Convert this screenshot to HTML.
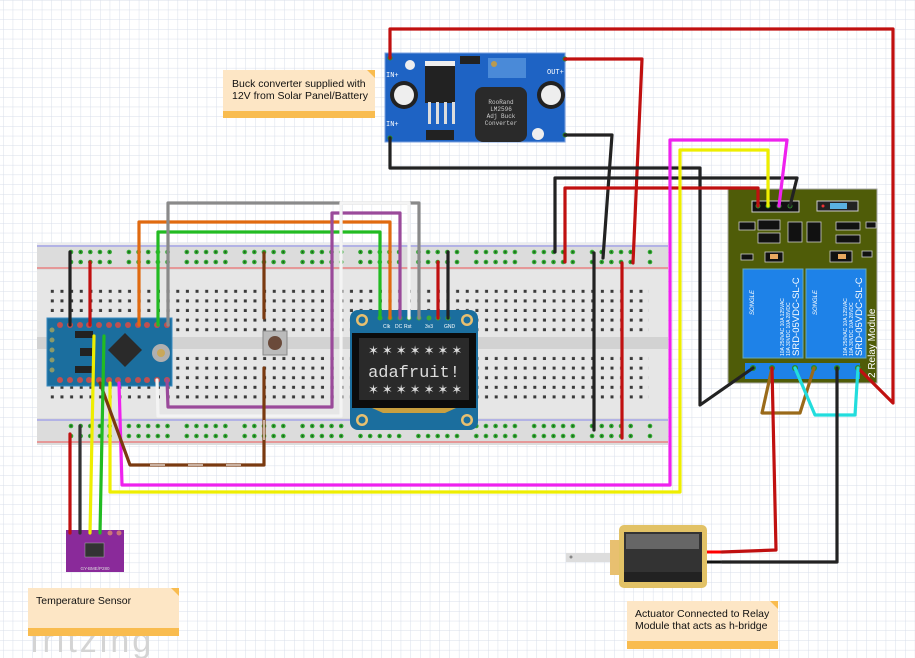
<!DOCTYPE html>
<html><head><meta charset="utf-8">
<style>
html,body{margin:0;padding:0;background:#fff;}
svg{display:block;font-family:"Liberation Sans",sans-serif;}
</style></head>
<body>
<svg width="915" height="658" viewBox="0 0 915 658" xmlns="http://www.w3.org/2000/svg">
<defs>
<pattern id="grid" x="3" y="0" width="9.7" height="9.7" patternUnits="userSpaceOnUse">
<path d="M0 0V9.7M0 0H9.7" stroke="#d8deea" stroke-width="1" fill="none"/>
</pattern>
<pattern id="holes" x="49" y="288" width="9.65" height="9.6" patternUnits="userSpaceOnUse">
<rect x="1.8" y="1.8" width="3" height="3" fill="#3a3a3a"/>
</pattern>
<pattern id="rail" x="68" y="0" width="57.9" height="10" patternUnits="userSpaceOnUse">
<g fill="#2fa82f"><circle cx="3" cy="3" r="2.3"/><circle cx="12.65" cy="3" r="2.3"/><circle cx="22.3" cy="3" r="2.3"/><circle cx="31.95" cy="3" r="2.3"/><circle cx="41.6" cy="3" r="2.3"/></g>
<g fill="#1a4a1a"><circle cx="3" cy="3" r="0.9"/><circle cx="12.65" cy="3" r="0.9"/><circle cx="22.3" cy="3" r="0.9"/><circle cx="31.95" cy="3" r="0.9"/><circle cx="41.6" cy="3" r="0.9"/></g>
</pattern>
</defs>
<rect width="915" height="658" fill="#fff"/>
<rect width="915" height="658" fill="url(#grid)"/>

<!-- fritzing logo -->
<text x="30" y="652" font-size="34" fill="#d4d4d4" letter-spacing="3">fritzing</text>

<!-- Breadboard -->
<rect x="37" y="243" width="631" height="202" fill="#dcdcdc"/>
<rect x="37" y="243" width="631" height="2" fill="#ececec"/>
<line x1="37" y1="246" x2="668" y2="246" stroke="#8888ee" stroke-width="1"/>
<line x1="37" y1="268" x2="668" y2="268" stroke="#ee5555" stroke-width="1"/>
<line x1="37" y1="420" x2="668" y2="420" stroke="#8888ee" stroke-width="1"/>
<line x1="37" y1="442" x2="668" y2="442" stroke="#ee5555" stroke-width="1"/>
<rect x="37" y="270" width="631" height="148" fill="#e6e6e6"/>
<rect x="37" y="337" width="631" height="12" fill="#d2d2d2"/>
<rect x="49" y="286" width="600" height="48" fill="url(#holes)"/>
<rect x="49" y="353" width="600" height="48" fill="url(#holes)"/>
<g transform="translate(0,249)"><rect x="68" y="0" width="585" height="7" fill="url(#rail)"/></g>
<g transform="translate(0,259)"><rect x="68" y="0" width="585" height="7" fill="url(#rail)"/></g>
<g transform="translate(0,423)"><rect x="68" y="0" width="585" height="7" fill="url(#rail)"/></g>
<g transform="translate(0,433)"><rect x="68" y="0" width="585" height="7" fill="url(#rail)"/></g>

<!-- Buck converter -->
<rect x="385" y="53" width="180" height="89" fill="#1e63c4" stroke="#7aa0e0"/>
<circle cx="404" cy="95" r="14" fill="#222"/><circle cx="404" cy="95" r="10" fill="#eee"/>
<circle cx="551" cy="95" r="14" fill="#222"/><circle cx="551" cy="95" r="10" fill="#eee"/>
<rect x="425" y="61" width="30" height="42" fill="#222"/><rect x="425" y="61" width="30" height="5" fill="#eee"/>
<g fill="#ddd"><rect x="428" y="102" width="3" height="22"/><rect x="436" y="102" width="3" height="22"/><rect x="444" y="102" width="3" height="22"/><rect x="452" y="102" width="3" height="22"/></g>
<rect x="475" y="87" width="52" height="55" rx="8" fill="#2a2a2a"/>
<text x="501" y="104" font-size="6" fill="#ccc" text-anchor="middle" font-family="Liberation Mono,monospace">RooRand</text>
<text x="501" y="111" font-size="6" fill="#ccc" text-anchor="middle" font-family="Liberation Mono,monospace">LM2596</text>
<text x="501" y="118" font-size="6" fill="#ccc" text-anchor="middle" font-family="Liberation Mono,monospace">Adj Buck</text>
<text x="501" y="125" font-size="6" fill="#ccc" text-anchor="middle" font-family="Liberation Mono,monospace">Converter</text>
<rect x="488" y="58" width="38" height="20" fill="#4a8ad8"/><circle cx="494" cy="64" r="3" fill="#b89a50"/>
<rect x="460" y="56" width="20" height="8" fill="#222"/>
<rect x="426" y="130" width="28" height="10" fill="#222"/>
<circle cx="538" cy="134" r="6" fill="#eee"/><circle cx="410" cy="65" r="5" fill="#eee"/>
<g fill="#fff" font-size="7" font-family="Liberation Mono,monospace"><text x="386" y="77">IN+</text><text x="386" y="126">IN+</text><text x="547" y="74">OUT+</text></g>
<g fill="#2a8a2a"><circle cx="390" cy="58" r="2.5"/><circle cx="390" cy="138" r="2.5"/><circle cx="565" cy="59" r="2.5"/><circle cx="565" cy="135" r="2.5"/></g>

<!-- Note buck -->
<rect x="223" y="70" width="152" height="48" fill="#fde6c5"/>
<rect x="223" y="111" width="152" height="7" fill="#f9bc4f"/>
<path d="M367 70 L375 70 L375 78 Z" fill="#f9bc4f"/>
<text x="232" y="87" font-size="10.5" fill="#111">Buck converter supplied with</text>
<text x="232" y="99" font-size="10.5" fill="#111">12V from Solar Panel/Battery</text>

<!-- Relay module -->
<rect x="728" y="189" width="149" height="194" fill="#4f5c08" stroke="#aaa" stroke-width="1"/>
<rect x="752" y="201" width="47" height="11" fill="#111" stroke="#ccc"/>
<rect x="817" y="201" width="41" height="10" fill="#222" stroke="#ccc"/><rect x="830" y="203" width="17" height="6" fill="#5ab0e0"/><circle cx="823" cy="206" r="1.5" fill="#e33"/>
<g fill="#111" stroke="#ccc" stroke-width="0.8">
<rect x="739" y="222" width="16" height="8"/><rect x="758" y="220" width="22" height="10"/><rect x="758" y="233" width="22" height="10"/>
<rect x="788" y="222" width="14" height="20"/><rect x="807" y="222" width="14" height="20"/>
<rect x="836" y="222" width="24" height="8"/><rect x="836" y="235" width="24" height="8"/><rect x="866" y="222" width="10" height="6"/>
<rect x="741" y="254" width="12" height="6"/><rect x="765" y="252" width="18" height="10"/><rect x="830" y="251" width="22" height="11"/><rect x="862" y="251" width="10" height="6"/></g>
<rect x="770" y="254" width="8" height="5" fill="#e9a860"/><rect x="838" y="254" width="8" height="5" fill="#e9a860"/>
<rect x="743" y="269" width="60" height="89" fill="#1e82e8" stroke="#6ab"/>
<rect x="806" y="269" width="60" height="89" fill="#1e82e8" stroke="#6ab"/>
<g fill="#fff">
<text transform="translate(799,356) rotate(-90)" font-size="9.5">SRD-05VDC-SL-C</text>
<text transform="translate(862,356) rotate(-90)" font-size="9.5">SRD-05VDC-SL-C</text>
<text transform="translate(784,356) rotate(-90)" font-size="5">10A 250VAC 10A 125VAC</text>
<text transform="translate(790,356) rotate(-90)" font-size="5">10A 30VDC 10A 28VDC</text>
<text transform="translate(847,356) rotate(-90)" font-size="5">10A 250VAC 10A 125VAC</text>
<text transform="translate(853,356) rotate(-90)" font-size="5">10A 30VDC 10A 28VDC</text>
<text transform="translate(754,315) rotate(-90)" font-size="6" font-style="italic">SONGLE</text>
<text transform="translate(817,315) rotate(-90)" font-size="6" font-style="italic">SONGLE</text>
</g>
<text transform="translate(875,378) rotate(-90)" font-size="10" fill="#fff">2 Relay Module</text>
<rect x="745" y="363" width="115" height="16" fill="#1e82e8"/>
<g fill="#2a8a2a"><circle cx="758" cy="206" r="2.5"/><circle cx="768" cy="206" r="2.5"/><circle cx="779" cy="206" r="2.5"/><circle cx="790" cy="206" r="2.5"/>
<circle cx="753" cy="368" r="3"/><circle cx="772" cy="368" r="3"/><circle cx="795" cy="368" r="3"/><circle cx="814" cy="368" r="3"/><circle cx="837" cy="368" r="3"/><circle cx="858" cy="368" r="3"/></g>

<!-- Arduino Pro Mini -->
<rect x="47" y="318" width="125" height="68" fill="#1b6e9e" stroke="#3a8ac0"/>
<path d="M125 333 L142 350 L125 367 L108 350 Z" fill="#2a2a2a"/>
<circle cx="161" cy="353" r="9" fill="#b0b0b0"/><circle cx="161" cy="353" r="4" fill="#c9a85a"/>
<rect x="75" y="331" width="18" height="7" fill="#222"/><rect x="75" y="366" width="18" height="7" fill="#222"/><rect x="80" y="348" width="12" height="8" fill="#222"/>
<g fill="#c05050"><circle cx="60" cy="325" r="3"/><circle cx="70" cy="325" r="3"/><circle cx="80" cy="325" r="3"/><circle cx="89" cy="325" r="3"/><circle cx="99" cy="325" r="3"/><circle cx="109" cy="325" r="3"/><circle cx="118" cy="325" r="3"/><circle cx="128" cy="325" r="3"/><circle cx="138" cy="325" r="3"/><circle cx="147" cy="325" r="3"/><circle cx="157" cy="325" r="3"/><circle cx="167" cy="325" r="3"/>
<circle cx="60" cy="380" r="3"/><circle cx="70" cy="380" r="3"/><circle cx="80" cy="380" r="3"/><circle cx="89" cy="380" r="3"/><circle cx="99" cy="380" r="3"/><circle cx="109" cy="380" r="3"/><circle cx="118" cy="380" r="3"/><circle cx="128" cy="380" r="3"/><circle cx="138" cy="380" r="3"/><circle cx="147" cy="380" r="3"/><circle cx="157" cy="380" r="3"/><circle cx="167" cy="380" r="3"/></g>
<g fill="#8a9a6a"><circle cx="52" cy="330" r="2.5"/><circle cx="52" cy="340" r="2.5"/><circle cx="52" cy="350" r="2.5"/><circle cx="52" cy="360" r="2.5"/><circle cx="52" cy="370" r="2.5"/></g>

<!-- Pushbutton -->
<rect x="263" y="331" width="24" height="24" fill="#bbb" stroke="#888"/>
<circle cx="275" cy="343" r="7" fill="#6a4a3a"/>

<!-- OLED -->
<rect x="350" y="310" width="128" height="120" rx="8" fill="#1b6e9e"/>
<circle cx="362" cy="320" r="6" fill="#e8c070"/><circle cx="362" cy="320" r="3.5" fill="#1b6e9e"/>
<circle cx="467" cy="320" r="6" fill="#e8c070"/><circle cx="467" cy="320" r="3.5" fill="#1b6e9e"/>
<circle cx="362" cy="420" r="6" fill="#e8c070"/><circle cx="362" cy="420" r="3.5" fill="#1b6e9e"/>
<circle cx="467" cy="420" r="6" fill="#e8c070"/><circle cx="467" cy="420" r="3.5" fill="#1b6e9e"/>
<rect x="352" y="333" width="124" height="75" fill="#0c0c0c"/>
<rect x="359" y="338" width="110" height="62" fill="#2a2a2a"/>
<text x="368" y="355" font-size="13" fill="#ddd" letter-spacing="3">✶✶✶✶✶✶✶</text>
<text x="414" y="377" font-size="17" fill="#ddd" text-anchor="middle" font-family="Liberation Mono,monospace">adafruit!</text>
<text x="368" y="394" font-size="13" fill="#ddd" letter-spacing="3">✶✶✶✶✶✶✶</text>
<path d="M372 408 L456 408 L445 413 L383 413 Z" fill="#c9a040"/>
<g fill="#fff" font-size="5"><text x="383" y="328">Clk</text><text x="395" y="328">DC</text><text x="404" y="328">Rst</text><text x="425" y="328">3v3</text><text x="444" y="328">GND</text></g>
<g fill="#3aa83a"><circle cx="380" cy="318" r="2.5"/><circle cx="390" cy="318" r="2.5"/><circle cx="400" cy="318" r="2.5"/><circle cx="409" cy="318" r="2.5"/><circle cx="419" cy="318" r="2.5"/><circle cx="429" cy="318" r="2.5"/><circle cx="438" cy="318" r="2.5"/><circle cx="448" cy="318" r="2.5"/></g>

<!-- Sensor -->
<rect x="66" y="530" width="58" height="42" fill="#8a2a9a"/>
<rect x="85" y="543" width="19" height="14" fill="#333" stroke="#aaa" stroke-width="0.5"/>
<text x="95" y="570" font-size="4.5" fill="#ddd" text-anchor="middle">GY-BME/P280</text>
<g fill="#c77"><circle cx="110" cy="533" r="2.5"/><circle cx="119" cy="533" r="2.5"/></g>

<!-- Actuator -->
<rect x="566" y="553" width="55" height="9" fill="#ddd"/>
<circle cx="571" cy="557" r="1.5" fill="#888"/>
<rect x="610" y="540" width="12" height="35" fill="#e8c070"/>
<rect x="619" y="525" width="88" height="63" rx="5" fill="#e2c266"/>
<rect x="624" y="532" width="78" height="50" fill="#333"/>
<rect x="626" y="534" width="73" height="15" fill="#666"/>
<rect x="624" y="572" width="78" height="10" fill="#222"/>
<line x1="707" y1="552" x2="722" y2="552" stroke="#f00" stroke-width="3"/>
<line x1="707" y1="562" x2="722" y2="562" stroke="#111" stroke-width="3"/>

<!-- Wires -->
<g fill="none" stroke-width="3.2" stroke-linejoin="round" stroke-linecap="round">
<polyline points="390,58 390,29 893,29 893,403 858,368" stroke="#c01010"/>
<polyline points="565,59 642,59 633,263" stroke="#c01010"/>
<polyline points="565,135 612,135 603,258" stroke="#222"/>
<polyline points="390,138 390,168 700,168 700,405 753,368" stroke="#222"/>
<polyline points="555,252 555,178 797,178 790,206" stroke="#222"/>
<polyline points="565,262 565,188 758,188 758,206" stroke="#c01010"/>
<polyline points="779,206 787,140 670,140 670,485 122,485 119,383" stroke="#ee22ee"/>
<polyline points="768,206 768,150 680,150 680,492 110,492 110,383" stroke="#eeee00"/>
<line x1="594" y1="253" x2="594" y2="430" stroke="#222"/>
<line x1="622" y1="263" x2="622" y2="438" stroke="#c01010"/>
<polyline points="772,368 762,413 800,413 814,368" stroke="#9a6a1a"/>
<polyline points="795,368 815,415 855,415 858,368" stroke="#22dddd"/>
<polyline points="772,368 776,550 722,552" stroke="#c01010"/>
<polyline points="837,368 837,562 722,562" stroke="#222"/>
<polyline points="139,325 139,222 390,222 390,318" stroke="#e06a10"/>
<polyline points="158,325 158,232 380,232 380,318" stroke="#22bb22"/>
<polyline points="168,325 168,203 419,203 419,318" stroke="#8a8a8a"/>
<polyline points="167,380 168,407 332,407 332,213 400,213 400,318" stroke="#9a4a9a"/>
<polyline points="157,380 158,416 341,416 341,203 409,203 409,318" stroke="#f4f4f4"/>
<line x1="264" y1="253" x2="264" y2="318" stroke="#7a3a10"/>
<polyline points="264,368 264,465 130,465 100,383" stroke="#7a3a10"/>
<line x1="438" y1="262" x2="438" y2="318" stroke="#c01010"/>
<line x1="448" y1="252" x2="448" y2="318" stroke="#222"/>
<line x1="70" y1="252" x2="70" y2="325" stroke="#222"/>
<line x1="90" y1="262" x2="90" y2="325" stroke="#c01010"/>
<line x1="70" y1="434" x2="70" y2="533" stroke="#c01010"/>
<line x1="80" y1="426" x2="80" y2="533" stroke="#333"/>
<polyline points="94,336 90,533" stroke="#eeee00"/>
<polyline points="104,336 100,533" stroke="#22bb22"/>
</g>
<g stroke="#fff" stroke-width="1.2"><line x1="150" y1="465" x2="165" y2="465"/><line x1="188" y1="465" x2="203" y2="465"/><line x1="226" y1="465" x2="241" y2="465"/><line x1="264" y1="420" x2="264" y2="440"/></g>

<!-- Note: Temperature sensor -->
<rect x="28" y="588" width="151" height="48" fill="#fde6c5"/>
<rect x="28" y="628" width="151" height="8" fill="#f9bc4f"/>
<path d="M171 588 L179 588 L179 596 Z" fill="#f9bc4f"/>
<text x="36" y="604" font-size="10.5" fill="#111">Temperature Sensor</text>

<!-- Note: Actuator -->
<rect x="627" y="601" width="151" height="48" fill="#fde6c5"/>
<rect x="627" y="641" width="151" height="8" fill="#f9bc4f"/>
<path d="M770 601 L778 601 L778 609 Z" fill="#f9bc4f"/>
<text x="635" y="617" font-size="10.5" fill="#111">Actuator Connected to Relay</text>
<text x="635" y="629" font-size="10.5" fill="#111">Module that acts as h-bridge</text>
</svg>
</body></html>
